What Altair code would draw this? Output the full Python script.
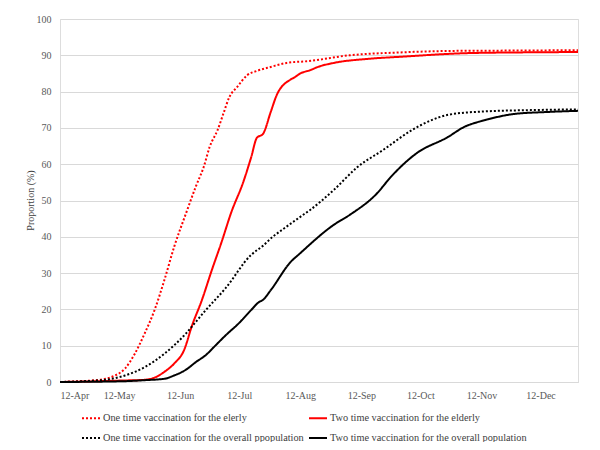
import altair as alt
import pandas as pd

series_names = [
    "One time vaccination  for the elerly",
    "Two time vaccination for the elderly",
    "One time vaccination for the overall ppopulation",
    "Two time vaccination for the overall population",
]
series_colors = ["#FF0000", "#FF0000", "#000000", "#000000"]
series_dashes = [[2, 2], [1, 0], [2, 2], [1, 0]]

# One time vaccination for the elderly (red dotted)
d1 = ["2021-04-12", "2021-04-22", "2021-04-30", "2021-05-05", "2021-05-10", "2021-05-15",
      "2021-05-20", "2021-05-25", "2021-05-30", "2021-06-04", "2021-06-09", "2021-06-15",
      "2021-06-20", "2021-06-24", "2021-06-27", "2021-07-01", "2021-07-04", "2021-07-07",
      "2021-07-11", "2021-07-16", "2021-07-21", "2021-07-28", "2021-08-05", "2021-08-16",
      "2021-09-06", "2021-10-02", "2021-10-27", "2021-11-27", "2021-12-31"]
v1 = [0, 0.2, 0.5, 0.9, 1.8, 3.7, 7.8, 13.4, 19.8, 28.1, 37.3, 46.5, 53.9, 59.3, 64.8,
      69.4, 74.0, 78.5, 81.3, 84.5, 85.7, 86.8, 87.9, 88.4, 90.0, 90.8, 91.2, 91.3, 91.4]

# Two time vaccination for the elderly (red solid)
d2 = ["2021-04-12", "2021-04-30", "2021-05-13", "2021-05-25", "2021-05-30", "2021-06-04",
      "2021-06-09", "2021-06-14", "2021-06-18", "2021-06-23", "2021-06-28", "2021-07-03",
      "2021-07-08", "2021-07-14", "2021-07-18", "2021-07-21", "2021-07-24", "2021-07-28",
      "2021-07-31", "2021-08-07", "2021-08-09", "2021-08-12", "2021-08-17", "2021-08-21",
      "2021-08-29", "2021-09-15", "2021-10-02", "2021-11-05", "2021-12-02", "2021-12-31"]
v2 = [0, 0.2, 0.4, 0.6, 1.2, 2.8, 5.1, 8.8, 15.5, 22.5, 30.7, 38.5, 46.8, 55.0, 61.8,
      67.3, 68.3, 74.4, 79.0, 83.3, 83.9, 85.0, 85.9, 86.8, 87.9, 89.0, 89.6, 90.6, 90.8, 90.9]

# One time vaccination for the overall population (black dotted)
d3 = ["2021-04-12", "2021-04-27", "2021-05-05", "2021-05-15", "2021-05-25", "2021-06-04",
      "2021-06-15", "2021-06-20", "2021-06-25", "2021-07-05", "2021-07-18", "2021-07-24",
      "2021-07-29", "2021-08-03", "2021-08-12", "2021-08-17", "2021-08-29", "2021-09-10",
      "2021-09-23", "2021-10-08", "2021-10-17", "2021-10-26", "2021-11-12", "2021-12-07",
      "2021-12-31"]
v3 = [0, 0.3, 0.6, 1.8, 4.1, 7.8, 13.4, 16.6, 19.8, 25.8, 35.0, 37.5, 40.0, 42.0, 45.5,
      47.4, 52.9, 59.2, 63.9, 69.5, 72.0, 73.6, 74.5, 74.9, 75.1]

# Two time vaccination for the overall population (black solid)
d4 = ["2021-04-12", "2021-05-13", "2021-05-25", "2021-06-04", "2021-06-09", "2021-06-15",
      "2021-06-20", "2021-06-25", "2021-06-30", "2021-07-05", "2021-07-12", "2021-07-18",
      "2021-07-22", "2021-07-24", "2021-07-28", "2021-08-07", "2021-08-12", "2021-08-29",
      "2021-09-06", "2021-09-20", "2021-09-27", "2021-10-10", "2021-10-26", "2021-11-03",
      "2021-11-12", "2021-11-20", "2021-11-28", "2021-12-16", "2021-12-31"]
v4 = [0, 0.2, 0.5, 0.9, 1.8, 3.4, 5.5, 7.4, 10.1, 12.8, 16.3, 19.8, 22.0, 22.6, 25.3,
      33.0, 35.5, 43.3, 46.0, 52.0, 56.5, 63.0, 67.5, 70.2, 71.9, 73.0, 73.8, 74.4, 74.7]

tick_months = [4, 5, 6, 7, 8, 9, 10, 11, 12]
y_ticks = [0, 10, 20, 30, 40, 50, 60, 70, 80, 90, 100]

rows = []
for name, dates, vals in zip(series_names, [d1, d2, d3, d4], [v1, v2, v3, v4]):
    for d, v in zip(dates, vals):
        rows.append({"date": d + "T00:00:00", "value": v, "series": name})
df = pd.DataFrame(rows)

font = "Liberation Serif, Times New Roman, DejaVu Serif, serif"

legend_cfg = dict(
    title=None,
    orient="none",
    direction="horizontal",
    legendX=21,
    legendY=389,
    columns=2,
    columnPadding=1,
    rowPadding=4,
    values=series_names,
    symbolType="stroke",
    symbolSize=324,
    symbolStrokeWidth=2,
    labelFont=font,
    labelFontSize=10.3,
    labelColor="#404040",
    labelOffset=2,
    labelLimit=400,
)

chart = alt.Chart(df).mark_line(strokeWidth=2, interpolate="monotone").encode(
    x=alt.X(
        "date:T",
        scale=alt.Scale(domain=[alt.DateTime(year=2021, month=4, date=12),
                                alt.DateTime(year=2021, month=12, date=31)]),
        axis=alt.Axis(
            title=None,
            values=[alt.DateTime(year=2021, month=m, date=12) for m in tick_months],
            format="%d-%b",
            grid=False,
            ticks=False,
            domainColor="#D9D9D9",
            labelPadding=8,
            labelFont=font,
            labelFontSize=10,
            labelColor="#595959",
        ),
    ),
    y=alt.Y(
        "value:Q",
        scale=alt.Scale(domain=[0, 100], nice=False),
        axis=alt.Axis(
            title="Proportion (%)",
            values=y_ticks,
            grid=True,
            gridColor="#D9D9D9",
            domain=False,
            ticks=False,
            labelPadding=9,
            labelFont=font,
            labelFontSize=10,
            labelColor="#595959",
            titleFont=font,
            titleFontSize=10,
            titleFontWeight="normal",
            titleColor="#404040",
            titleX=-30,
            titleY=181,
            titleAngle=270,
            titleAlign="center",
            titleBaseline="middle",
        ),
    ),
    color=alt.Color(
        "series:N",
        sort=series_names,
        scale=alt.Scale(domain=series_names, range=series_colors),
        legend=alt.Legend(**legend_cfg),
    ),
    strokeDash=alt.StrokeDash(
        "series:N",
        sort=series_names,
        scale=alt.Scale(domain=series_names, range=series_dashes),
        legend=alt.Legend(**legend_cfg),
    ),
).properties(
    width=518,
    height=363,
    padding={"left": 52, "top": 11, "right": 14, "bottom": 60},
    autosize=alt.AutoSizeParams(type="none"),
).configure_view(stroke=None).configure(background="white")

chart.save("out.html", embed_options={"renderer": "svg", "actions": False})
